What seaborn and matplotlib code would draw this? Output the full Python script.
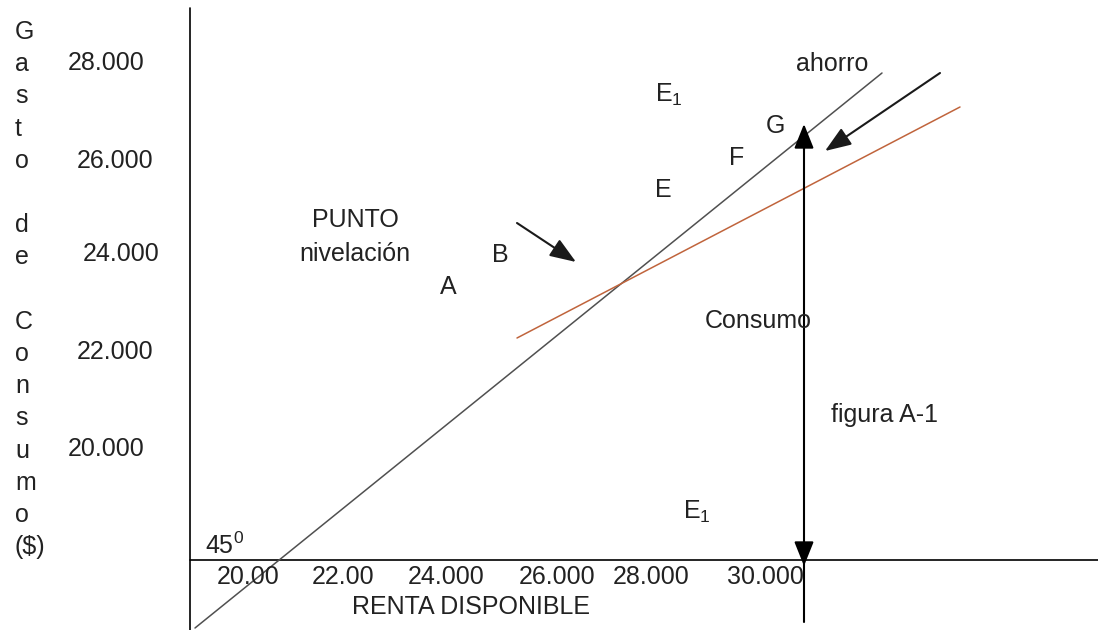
import matplotlib
matplotlib.use('Agg')  # non-GUI backend
import matplotlib.pyplot as plt
import seaborn as sns

# diagram drawn in the figure's own units (x right, y down), as in the original sketch
recta_45_x = [195, 882]
recta_45_y = [628, 73]
consumo_x = [517, 960]
consumo_y = [338, 107]

ytick_labels = ["28.000", "26.000", "24.000", "22.000", "20.000"]
ytick_y = [63, 161, 254, 352, 449]
ytick_x = [68, 77, 83, 77, 68]

xtick_labels = ["20.00", "22.00", "24.000", "26.000", "28.000", "30.000"]
xtick_x = [217, 312, 408, 519, 613, 727]

ylabel_letters = ["G", "a", "s", "t", "o", "", "d", "e", "", "C", "o", "n", "s", "u", "m", "o", "($)"]

sns.set_theme(style="white")
plt.rcParams['font.family'] = ['Liberation Sans', 'DejaVu Sans']
plt.rcParams['mathtext.fontset'] = 'custom'
plt.rcParams['mathtext.rm'] = 'Liberation Sans'
FS = 18
TXT = '#222222'

fig = plt.figure(figsize=(10.98, 6.3), dpi=100)
ax = fig.add_axes([0, 0, 1, 1])
ax.set_xlim(0, 1098)
ax.set_ylim(630, 0)
ax.axis('off')

# ejes
sns.lineplot(x=[190, 190], y=[8, 630], color='black', linewidth=1.2, ax=ax,
             sort=False, estimator=None)
sns.lineplot(x=[190, 1098], y=[560, 560], color='black', linewidth=1.2, ax=ax,
             sort=False, estimator=None)

# recta de 45 grados y funcion de consumo
sns.lineplot(x=recta_45_x, y=recta_45_y, color='#505050', linewidth=1.1, ax=ax,
             sort=False, estimator=None)
sns.lineplot(x=consumo_x, y=consumo_y, color='#c0643c', linewidth=1.1, ax=ax,
             sort=False, estimator=None)

# flecha vertical (consumo / ahorro)
sns.lineplot(x=[804, 804], y=[622, 128], color='black', linewidth=1.5, ax=ax,
             sort=False, estimator=None)
head = dict(arrowstyle='-|>,head_length=0.75,head_width=0.3', color='black', lw=1.5,
            mutation_scale=20, shrinkA=0, shrinkB=0)
ax.annotate("", xy=(804, 124), xytext=(804, 150), arrowprops=head)
ax.annotate("", xy=(804, 566), xytext=(804, 545), arrowprops=head)

# flechas diagonales
diag = dict(arrowstyle='-|>,head_length=0.8,head_width=0.3', color='#1a1a1a',
            lw=1.5, mutation_scale=20, shrinkA=0, shrinkB=0)
ax.annotate("", xy=(825, 151), xytext=(940, 73), arrowprops=diag)
ax.annotate("", xy=(576, 262), xytext=(517, 223), arrowprops=diag)

# etiquetas de los ejes
for i, letter in enumerate(ylabel_letters):
    ax.text(15, 32 + i * 32.2, letter, fontsize=FS, ha='left', va='center', color=TXT)
for lab, x, y in zip(ytick_labels, ytick_x, ytick_y):
    ax.text(x, y, lab, fontsize=FS, ha='left', va='center', color=TXT)
for lab, x in zip(xtick_labels, xtick_x):
    ax.text(x, 577, lab, fontsize=FS, ha='left', va='center', color=TXT)
ax.text(352, 607, "RENTA DISPONIBLE", fontsize=FS, ha='left', va='center', color=TXT)
ax.text(205, 546, r"45$^{\mathregular{0}}$", fontsize=FS, ha='left', va='center', color=TXT)

# textos del grafico
ax.text(832, 64, "ahorro", fontsize=FS, ha='center', va='center', color=TXT)
ax.text(655, 95, r"E$_{\mathregular{1}}$", fontsize=FS, ha='left', va='center', color=TXT)
ax.text(775, 126, "G", fontsize=FS, ha='center', va='center', color=TXT)
ax.text(737, 158, "F", fontsize=FS, ha='center', va='center', color=TXT)
ax.text(663, 190, "E", fontsize=FS, ha='center', va='center', color=TXT)
ax.text(355, 220, "PUNTO", fontsize=FS, ha='center', va='center', color=TXT)
ax.text(355, 254, "nivelación", fontsize=FS, ha='center', va='center', color=TXT)
ax.text(500, 255, "B", fontsize=FS, ha='center', va='center', color=TXT)
ax.text(448, 287, "A", fontsize=FS, ha='center', va='center', color=TXT)
ax.text(705, 321, "Consumo", fontsize=FS, ha='left', va='center', color=TXT)
ax.text(831, 415, "figura A-1", fontsize=FS, ha='left', va='center', color=TXT)
ax.text(683, 512, r"E$_{\mathregular{1}}$", fontsize=FS, ha='left', va='center', color=TXT)

fig.savefig("out.png", dpi=100, facecolor='white')
